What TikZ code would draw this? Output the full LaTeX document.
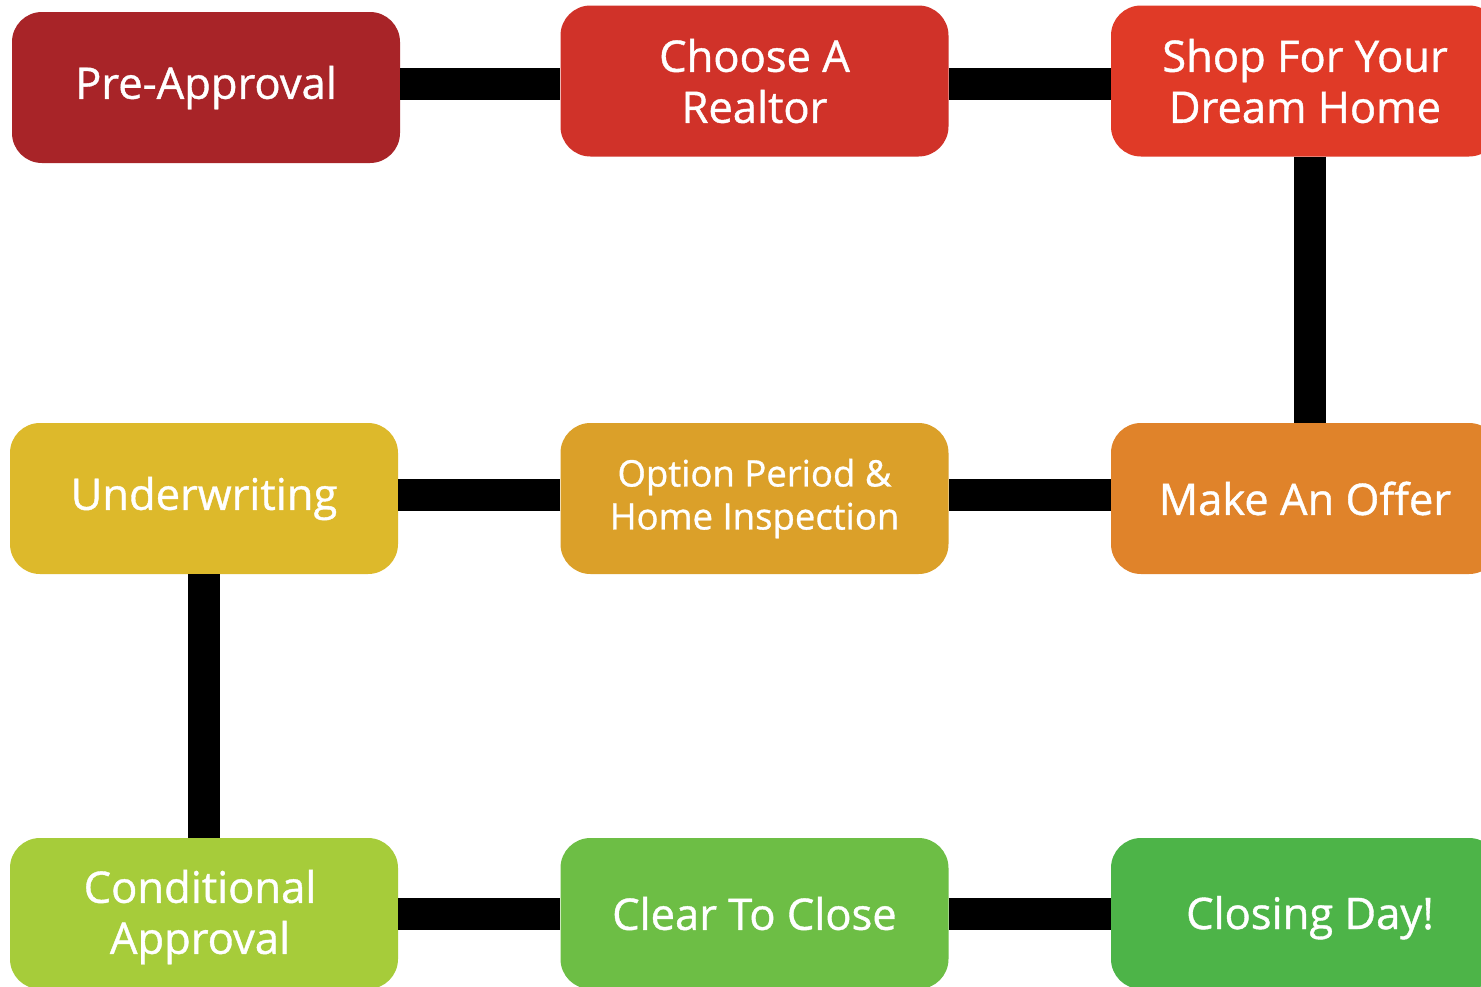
\documentclass[tikz,border=0pt]{standalone}
\usepackage{fontspec}
\setmainfont{Open Sans}[BoldFont=Open Sans, BoldFeatures={FakeBold=0.9}]
\definecolor{cPre}{HTML}{A82428}
\definecolor{cChoose}{HTML}{D03229}
\definecolor{cShop}{HTML}{E03A27}
\definecolor{cOffer}{HTML}{E0832A}
\definecolor{cOption}{HTML}{DBA029}
\definecolor{cUnder}{HTML}{DDB92B}
\definecolor{cCond}{HTML}{A6CC3A}
\definecolor{cClear}{HTML}{6DBE45}
\definecolor{cClosing}{HTML}{4DB448}
\begin{document}
\begin{tikzpicture}[x=1pt,y=-1pt,
  stepbox/.style={rectangle, rounded corners=30pt, minimum width=388pt, minimum height=151pt,
    inner sep=0pt, text=white, align=center, font=\fontsize{43.5}{51}\selectfont\bfseries},
  smalltext/.style={font=\fontsize{36.5}{43}\selectfont\bfseries},
  link/.style={line width=32pt, black}]
\useasboundingbox[clip] (0,0) rectangle (1481,986);
\fill[white] (0,0) rectangle (1481,986);
\node[stepbox, fill=cPre] (pre) at (206,87.5) {Pre-Approval};
\node[stepbox, fill=cChoose] (choose) at (754.5,81) {Choose A\\Realtor};
\node[stepbox, fill=cShop] (shop) at (1305,81) {Shop For Your\\Dream Home};
\node[stepbox, fill=cUnder] (under) at (204,498.5) {Underwriting};
\node[stepbox, fill=cOption, smalltext] (option) at (754.5,498.5) {Option Period \&\\Home Inspection};
\node[stepbox, fill=cOffer] (offer) at (1305,498.5) {Make An Offer};
\node[stepbox, fill=cCond] (cond) at (204,913.5) {};
\node[text=white, align=center, font=\fontsize{43.5}{51}\selectfont\bfseries] (condtext) at (200,917) {Conditional\\Approval};
\node[stepbox, fill=cClear] (clear) at (754.5,913.5) {Clear To Close};
\node[stepbox, fill=cClosing] (closing) at (1305,913.5) {};
\node[text=white, font=\fontsize{43.5}{51}\selectfont\bfseries, anchor=base] (closingtext) at (1310,929) {Closing Day!};
\draw[link] (pre.east |- 0,84) -- (choose.west |- 0,84);
\draw[link] (choose.east |- 0,84) -- (shop.west |- 0,84);
\draw[link] (shop.south -| 1310,0) -- (offer.north -| 1310,0);
\draw[link] (offer.west |- 0,495) -- (option.east |- 0,495);
\draw[link] (option.west |- 0,495) -- (under.east |- 0,495);
\draw[link] (under.south) -- (cond.north);
\draw[link] (cond.east |- 0,914) -- (clear.west |- 0,914);
\draw[link] (clear.east |- 0,914) -- (closing.west |- 0,914);
\end{tikzpicture}
\end{document}
